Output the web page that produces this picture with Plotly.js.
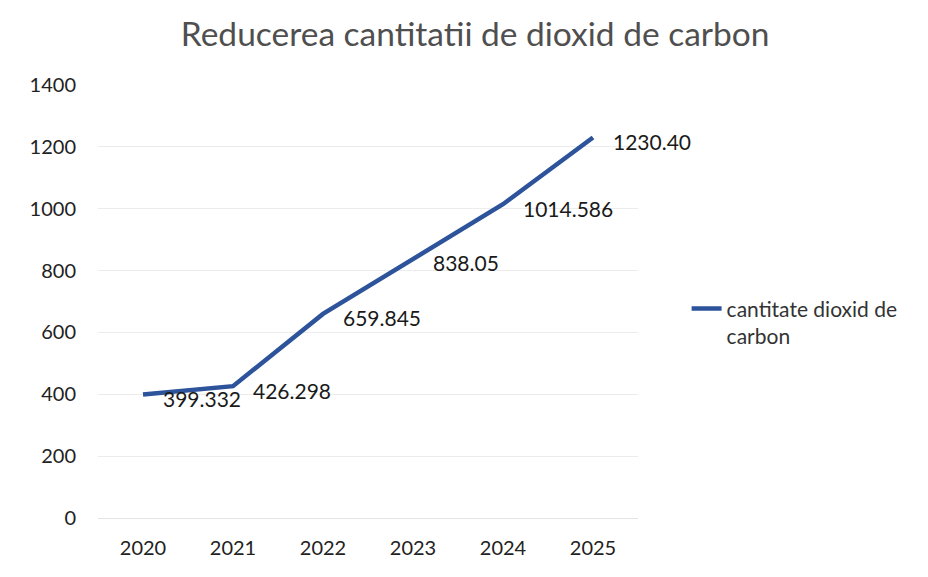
<!DOCTYPE html>
<html><head><meta charset="utf-8">
<script src="https://cdn.plot.ly/plotly-3.0.1.min.js"></script>
<style>html,body{margin:0;padding:0;background:#fff}#c{width:928px;height:577px}</style>
</head><body><div id="c"></div>
<script>
const years = ['2020','2021','2022','2023','2024','2025'];
const co2 = [399.332, 426.298, 659.845, 838.05, 1014.586, 1230.40];
const labels = ['399.332','426.298','659.845','838.05','1014.586','1230.40'];
const seriesName = 'cantitate dioxid de<br>carbon';
const yTicks = [0,200,400,600,800,1000,1200,1400];

const font = 'Lato, "Open Sans", sans-serif';
const annotations = years.map((yr, i) => ({
  x: i, y: co2[i], xref: 'x', yref: 'y', text: labels[i], showarrow: false,
  xanchor: 'left', yanchor: 'middle', xshift: 18, yshift: -4,
  font: {family: font, size: 21, color: '#1a1a1a'}
}));
Plotly.newPlot('c', [{
  x: years, y: co2, type: 'scatter', mode: 'lines',
  name: seriesName,
  line: {color: '#2D539B', width: 4.5},
  cliponaxis: false
}], {
  width: 928, height: 577,
  margin: {l: 98, r: 290, t: 85, b: 59},
  paper_bgcolor: '#fff', plot_bgcolor: '#fff',
  title: {text: 'Reducerea cantitatii de dioxid de carbon', x: 0.512, xanchor: 'center', y: 0.94, yanchor: 'middle',
          font: {family: font, size: 33.5, color: '#4f4f4f'}},
  xaxis: {type: 'category', range: [-0.5, 5.5], showgrid: false, zeroline: false, showline: false, ticks: '',
          tickfont: {family: font, size: 20, color: '#222'}, ticklabelstandoff: 16},
  yaxis: {range: [0, 1400], tickvals: yTicks, showgrid: true, gridcolor: '#ececec', gridwidth: 1,
          zeroline: true, zerolinecolor: '#e4e4e4', showline: false, ticks: '',
          tickfont: {family: font, size: 20, color: '#222'}, ticklabelstandoff: 21},
  annotations: annotations,
  showlegend: true,
  legend: {x: 1.09, xanchor: 'left', y: 0.452, yanchor: 'middle', valign: 'top',
           font: {family: font, size: 21, color: '#333'}, tracegroupgap: 0}
}, {displayModeBar: false, staticPlot: true});
</script></body></html>
